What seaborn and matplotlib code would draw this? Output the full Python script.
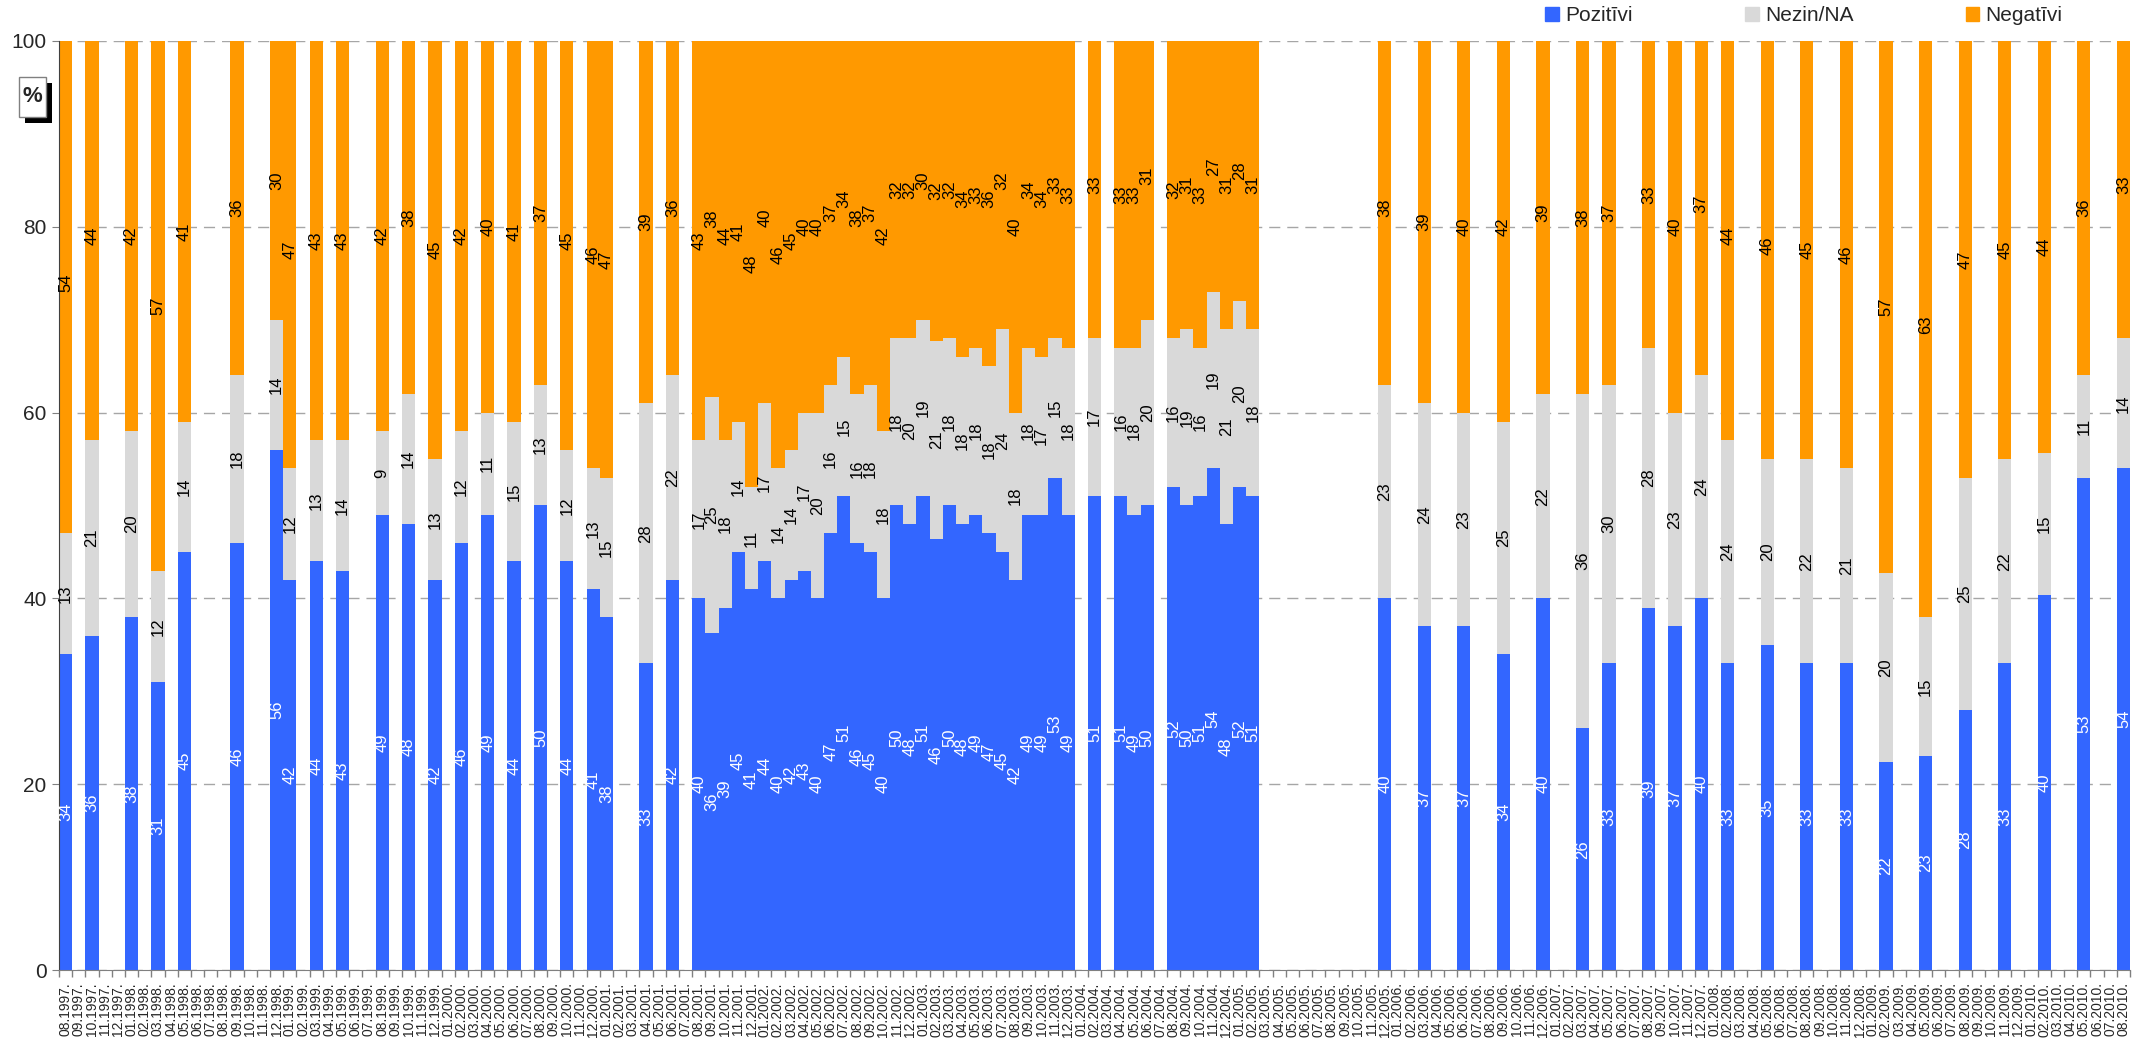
import numpy as np
import pandas as pd
import matplotlib
matplotlib.use('Agg')
import matplotlib.pyplot as plt
import seaborn as sns
from matplotlib.patches import Rectangle

# all months on the axis (monthly categories, many without a survey)
months = [p.strftime('%m.%Y.') for p in pd.period_range('1997-08', '2010-08', freq='M')]

# months with a survey
surveys = ['08.1997.', '10.1997.', '01.1998.', '03.1998.', '05.1998.', '09.1998.',
           '12.1998.', '01.1999.', '03.1999.', '05.1999.', '08.1999.', '10.1999.',
           '12.1999.', '02.2000.', '04.2000.', '06.2000.', '08.2000.', '10.2000.',
           '12.2000.', '01.2001.', '04.2001.', '06.2001.',
           '08.2001.', '09.2001.', '10.2001.', '11.2001.', '12.2001.',
           '01.2002.', '02.2002.', '03.2002.', '04.2002.', '05.2002.', '06.2002.',
           '07.2002.', '08.2002.', '09.2002.', '10.2002.', '11.2002.', '12.2002.',
           '01.2003.', '02.2003.', '03.2003.', '04.2003.', '05.2003.', '06.2003.',
           '07.2003.', '08.2003.', '09.2003.', '10.2003.', '11.2003.', '12.2003.',
           '02.2004.', '04.2004.', '05.2004.', '06.2004.', '08.2004.', '09.2004.',
           '10.2004.', '11.2004.', '12.2004.', '01.2005.', '02.2005.',
           '12.2005.', '03.2006.', '06.2006.', '09.2006.', '12.2006.', '03.2007.',
           '05.2007.', '08.2007.', '10.2007.', '12.2007.', '02.2008.', '05.2008.',
           '08.2008.', '11.2008.', '02.2009.', '05.2009.', '08.2009.', '11.2009.',
           '02.2010.', '05.2010.', '08.2010.']

pozitivi = [34, 36, 38, 31, 45, 46, 56, 42, 44, 43, 49, 48, 42, 46, 49, 44, 50, 44, 41, 38, 33, 42,
            40, 36.3, 39, 45, 41, 44, 40, 42, 43, 40, 47, 51, 46, 45, 40, 50, 48, 51, 46.4, 50, 48, 49,
            47, 45, 42, 49, 49, 53, 49,
            51, 51, 49, 50, 52, 50, 51, 54, 48, 52, 51,
            40, 37, 37, 34, 40, 26, 33, 39, 37, 40, 33, 35, 33, 33, 22.4, 23, 28, 33, 40.4, 53, 54]

nezin = [13, 21, 20, 12, 14, 18, 14, 12, 13, 14, 9, 14, 13, 12, 11, 15, 13, 12, 13, 15, 28, 22,
         17, 25.4, 18, 14, 11, 17, 14, 14, 17, 20, 16, 15, 16, 18, 18, 18, 20, 19, 21.3, 18, 18, 18,
         18, 24, 18, 18, 17, 15, 18,
         17, 16, 18, 20, 16, 19, 16, 19, 21, 20, 18,
         23, 24, 23, 25, 22, 36, 30, 28, 23, 24, 24, 20, 22, 21, 20.3, 15, 25, 22, 15.3, 11, 14]

negativi = [54, 44, 42, 57, 41, 36, 30, 47, 43, 43, 42, 38, 45, 42, 40, 41, 37, 45, 46, 47, 39, 36,
            43, 38.3, 44, 41, 48, 40, 46, 45, 40, 40, 37, 34, 38, 37, 42, 32, 32, 30, 32.3, 32, 34, 33,
            36, 32, 40, 34, 34, 33, 33,
            33, 33, 33, 31, 32, 31, 33, 27, 31, 28, 31,
            38, 39, 40, 42, 39, 38, 37, 33, 40, 37, 44, 46, 45, 46, 57.3, 63, 47, 45, 44.3, 36, 33]

blue = '#3366FF'
gray = '#D9D9D9'
orange = '#FF9900'

df = pd.DataFrame({'month': surveys, 'pos': pozitivi, 'nez': nezin, 'neg': negativi})
df['top_nez'] = df['pos'] + df['nez']
df['top_neg'] = df['top_nez'] + df['neg']

sns.set_style('white')
plt.rcParams['font.family'] = ['Liberation Sans', 'DejaVu Sans']

W, H = 2138, 1038
fig = plt.figure(figsize=(W / 100, H / 100), dpi=100)
ax = fig.add_axes([59 / W, 1 - 970 / H, (2130 - 59) / W, (970 - 41) / H])

# stacked bars: draw cumulative totals back to front
for col, c in [('top_neg', orange), ('top_nez', gray), ('pos', blue)]:
    sns.barplot(data=df, x='month', y=col, order=months, color=c, saturation=1,
                width=1, errorbar=None, linewidth=0, ax=ax)

# value labels in the middle of each segment
xpos = {m: i for i, m in enumerate(months)}
for _, r in df.iterrows():
    x = xpos[r['month']]
    ax.text(x, r['pos'] / 2, f"{r['pos']:.0f}", rotation=90, ha='center', va='center',
            color='white', fontsize=12)
    ax.text(x, r['pos'] + r['nez'] / 2, f"{r['nez']:.0f}", rotation=90, ha='center',
            va='center', color='black', fontsize=12)
    ax.text(x, r['top_nez'] + r['neg'] / 2, f"{r['neg']:.0f}", rotation=90, ha='center',
            va='center', color='black', fontsize=12)

ax.set_xlim(-0.5, len(months) - 0.5)
ax.set_ylim(0, 100)
ax.set_yticks([0, 20, 40, 60, 80, 100])
ax.set_xlabel('')
ax.set_ylabel('')
ax.yaxis.grid(True, color='#a6a6a6', linestyle=(0, (8, 5)), linewidth=1)
ax.xaxis.grid(False)
ax.set_axisbelow(True)

ax.set_xticks(np.arange(-0.5, len(months)), minor=True)
ax.tick_params(axis='x', which='major', bottom=True, length=0, labelrotation=90, labelsize=10, pad=9)
ax.tick_params(axis='x', which='minor', bottom=True, length=5, color='#808080', width=1)
ax.tick_params(axis='y', left=True, length=5, color='#808080', labelsize=15, pad=4)

for s in ['top', 'right']:
    ax.spines[s].set_visible(False)
ax.spines['left'].set_color('#404040')
ax.spines['bottom'].set_color('#808080')

# legend
handles = [Rectangle((0, 0), 1, 1, color=c) for c in [blue, gray, orange]]
fig.legend(handles, ['Pozitīvi', 'Nezin/NA', 'Negatīvi'], loc='upper left',
           bbox_to_anchor=(1539 / W, 1.0), ncol=3, frameon=False, fontsize=15,
           handlelength=0.65, handleheight=0.65, handletextpad=0.3, columnspacing=5.4,
           borderaxespad=0, borderpad=0.3)

# "%" box with shadow
fig.add_artist(Rectangle((25 / W, 1 - 123 / H), 27 / W, 40 / H, transform=fig.transFigure,
                         facecolor='black', edgecolor='none'))
fig.add_artist(Rectangle((19 / W, 1 - 117 / H), 27 / W, 40 / H, transform=fig.transFigure,
                         facecolor='white', edgecolor='#808080', lw=1))
fig.text(32.5 / W, 1 - 97 / H, '%', ha='center', va='center', fontsize=16, fontweight='bold')

fig.savefig('out.png', dpi=100)
